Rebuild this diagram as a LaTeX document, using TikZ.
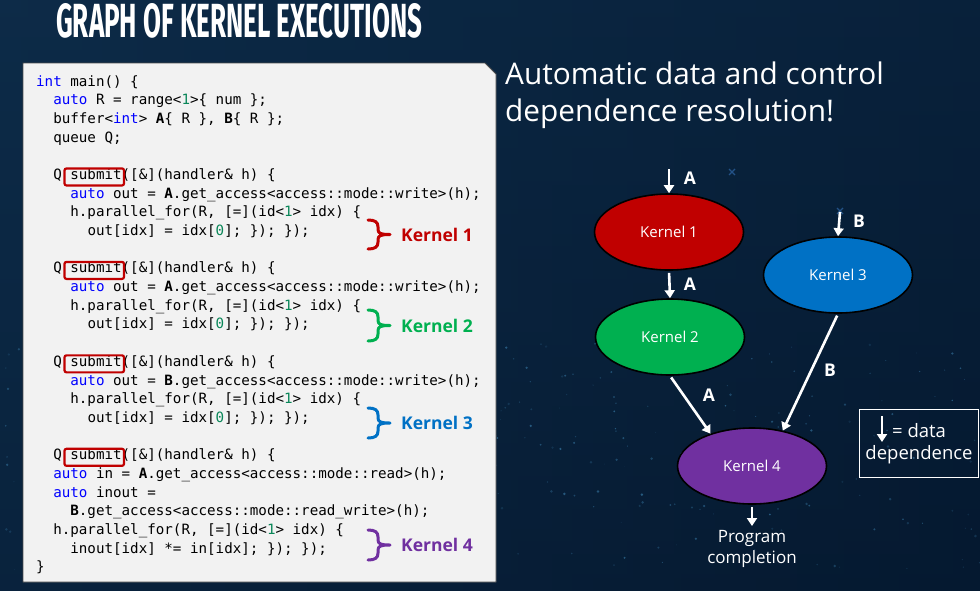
\documentclass[tikz,border=0pt]{standalone}
\usepackage{fontspec}
\usepackage{graphicx}
\setmainfont{Open Sans}
\newfontfamily\codefont{DejaVu Sans Mono}
\newfontfamily\titlefont{Fira Sans}
\usetikzlibrary{arrows.meta,shapes.geometric}

\definecolor{bgA}{RGB}{13,43,72}
\definecolor{bgB}{RGB}{5,25,48}
\definecolor{panelgray}{RGB}{242,242,242}
\definecolor{kred}{RGB}{192,0,0}
\definecolor{kgreen}{RGB}{0,176,80}
\definecolor{kblue}{RGB}{0,113,197}
\definecolor{kpurple}{RGB}{112,48,160}
\definecolor{kwblue}{RGB}{0,0,255}
\definecolor{numgreen}{RGB}{9,134,88}
\definecolor{dotc}{RGB}{70,150,200}
\definecolor{xmarkc}{RGB}{35,82,135}

% code helpers
\newcommand\kw[1]{\textcolor{kwblue}{#1}}
\newcommand\nm[1]{\textcolor{numgreen}{#1}}
% one code line: name, column, row, text
\newcommand\codeln[4]{\node[codetxt] (#1) at ({36+#2*8.55},{86+#3*18.69}) {#4};}
% box around "submit" on a given row
\newcommand\submitbox[1]{\draw[subbox] (64.5,{86+#1*18.69-11}) rectangle (124,{86+#1*18.69+6});}
% curly brace: colour, top, bottom
\newcommand\kbrace[3]{%
  \pgfmathsetmacro\bm{(#2+#3)/2}%
  \draw[kbr,#1] (368,#2) .. controls (375,#2) and (378,{#2+2}) .. (378,{#2+7})
    -- (378,{\bm-5}) .. controls (378,{\bm-1}) and (381,\bm) .. (390,\bm)
    .. controls (381,\bm) and (378,{\bm+1}) .. (378,{\bm+5})
    -- (378,{#3-7}) .. controls (378,{#3-2}) and (375,#3) .. (368,#3);}

\begin{document}
\begin{tikzpicture}[x=1pt,y=-1pt,
  codetxt/.style={anchor=base west,inner sep=0pt,text=black,
    font=\codefont\fontsize{14.2}{16}\selectfont},
  subbox/.style={draw=kred,line width=2.2pt,rounded corners=2pt},
  kbr/.style={line width=3pt,line cap=round,line join=round},
  klab/.style={anchor=west,inner sep=0pt,font=\bfseries\fontsize{17.5}{20}\selectfont},
  kernel/.style={ellipse,draw=black,line width=1.6pt,minimum width=149pt,
    minimum height=76pt,inner sep=0pt,text=white,font=\fontsize{15}{18}\selectfont},
  dep/.style={draw=white,line width=2.6pt,-{Triangle[width=10pt,length=8pt]}},
  edgelab/.style={text=white,inner sep=0pt,font=\bfseries\fontsize{17.5}{20}\selectfont},
  whitetxt/.style={text=white,inner sep=0pt},
  xmark/.style={draw=xmarkc,line width=1.2pt}]

\useasboundingbox (0,0) rectangle (980,590);

% backdrop
\shade[left color=bgA,right color=bgB] (0,0) rectangle (980,590);
\shade[top color=bgA,bottom color=bgB,opacity=0.45] (0,0) rectangle (980,590);
\pgfmathsetseed{42}
\foreach \i in {1,...,300}{
  \pgfmathsetmacro\px{rnd*980}
  \pgfmathsetmacro\py{340+rnd*230}
  \pgfmathsetmacro\pr{0.4+rnd*1.0}
  \pgfmathsetmacro\po{0.12+rnd*0.4}
  \fill[dotc,opacity=\po] (\px,\py) circle (\pr);
}

% title
\node[anchor=base west,inner sep=0pt,text=white] (title) at (56,37)
  {\resizebox{366pt}{34pt}{\titlefont\bfseries GRAPH OF KERNEL EXECUTIONS}};

% code panel with folded corner
\fill[panelgray,draw=black!70,line width=0.8pt]
  (23,63) -- (485,63) -- (496,74) -- (496,582) -- (23,582) -- cycle;

\codeln{c0}{0}{0}{\kw{int} main() \{}
\codeln{c1}{2}{1}{\kw{auto} R = range<\nm{1}>\{ num \};}
\codeln{c2}{2}{2}{buffer<\kw{int}> \textbf{A}\{ R \}, \textbf{B}\{ R \};}
\codeln{c3}{2}{3}{queue Q;}

\codeln{c5}{2}{5}{Q submit([\&](handler\& h) \{}
\codeln{c6}{4}{6}{\kw{auto} out = \textbf{A}.get\_access<access::mode::write>(h);}
\codeln{c7}{4}{7}{h.parallel\_for(R, [=](id<\nm{1}> idx) \{}
\codeln{c8}{6}{8}{out[idx] = idx[\nm{0}]; \}); \});}

\codeln{c10}{2}{10}{Q submit([\&](handler\& h) \{}
\codeln{c11}{4}{11}{\kw{auto} out = \textbf{A}.get\_access<access::mode::write>(h);}
\codeln{c12}{4}{12}{h.parallel\_for(R, [=](id<\nm{1}> idx) \{}
\codeln{c13}{6}{13}{out[idx] = idx[\nm{0}]; \}); \});}

\codeln{c15}{2}{15}{Q submit([\&](handler\& h) \{}
\codeln{c16}{4}{16}{\kw{auto} out = \textbf{B}.get\_access<access::mode::write>(h);}
\codeln{c17}{4}{17}{h.parallel\_for(R, [=](id<\nm{1}> idx) \{}
\codeln{c18}{6}{18}{out[idx] = idx[\nm{0}]; \}); \});}

\codeln{c20}{2}{20}{Q submit([\&](handler\& h) \{}
\codeln{c21}{2}{21}{\kw{auto} in = \textbf{A}.get\_access<access::mode::read>(h);}
\codeln{c22}{2}{22}{\kw{auto} inout =}
\codeln{c23}{4}{23}{\textbf{B}.get\_access<access::mode::read\_write>(h);}
\codeln{c24}{2}{24}{h.parallel\_for(R, [=](id<\nm{1}> idx) \{}
\codeln{c25}{4}{25}{inout[idx] *= in[idx]; \}); \});}
\codeln{c26}{0}{26}{\}}

\submitbox{5}
\submitbox{10}
\submitbox{15}
\submitbox{20}

% kernel braces and labels
\kbrace{kred}{220}{249}
\node[klab,text=kred] (l1) at (401,235) {Kernel 1};
\kbrace{kgreen}{310}{341}
\node[klab,text=kgreen] (l2) at (401,326) {Kernel 2};
\kbrace{kblue}{408}{438}
\node[klab,text=kblue] (l3) at (401,423) {Kernel 3};
\kbrace{kpurple}{530}{560}
\node[klab,text=kpurple] (l4) at (401,545) {Kernel 4};

% heading
\node[whitetxt,anchor=base west,font=\fontsize{29.8}{36}\selectfont] (h1) at (505,84) {Automatic data and control};
\node[whitetxt,anchor=base west,font=\fontsize{29.8}{36}\selectfont] (h2) at (505,121) {dependence resolution!};

% decorative crosses
\draw[xmark] (729,169) -- (735,175) (729,175) -- (735,169);
\draw[xmark] (837,208) -- (843,214) (837,214) -- (843,208);

% kernel graph
\node[kernel,fill=kred] (k1) at (669,232) {Kernel 1};
\node[kernel,fill=kgreen] (k2) at (670,337) {Kernel 2};
\node[kernel,fill=kblue] (k3) at (838,275) {Kernel 3};
\node[kernel,fill=kpurple] (k4) at (752,466) {Kernel 4};

\coordinate (inA) at (669,169);
\coordinate (inB) at (840,212);
\draw[dep] (inA) -- (k1.north);
\draw[dep] (inB) -- (k3.north);
\draw[dep,shorten <=2pt] (k1.south) -- (k2.north);
\draw[dep,shorten <=2pt] (k2.south) -- (k4.142);
\draw[dep,shorten <=2pt] (k3.south) -- (k4.49);

\node[edgelab] (la0) at (690,178) {A};
\node[edgelab] (la1) at (690,284) {A};
\node[edgelab] (lb0) at (859,221) {B};
\node[edgelab] (la2) at (709,395) {A};
\node[edgelab] (lb1) at (830,370) {B};

\node[whitetxt,anchor=north,align=center,font=\fontsize{17}{21}\selectfont] (done) at (752,530)
  {Program\\completion};
\draw[dep,shorten <=2pt,shorten >=4pt] (k4.south) -- (done.north);

% legend
\node[draw=white,line width=1pt,minimum width=119pt,minimum height=68pt,inner sep=0pt] (leg) at (918.5,443) {};
\coordinate (lg1) at (882,416);
\coordinate (lg2) at (882,442);
\draw[dep,line width=2.4pt] (lg1) -- (lg2);
\node[whitetxt,anchor=base west,font=\fontsize{18.5}{22}\selectfont] (legt1) at (892,437) {= data};
\node[whitetxt,anchor=base,font=\fontsize{18.5}{22}\selectfont] (legt2) at (919,459) {dependence};

\end{tikzpicture}
\end{document}
